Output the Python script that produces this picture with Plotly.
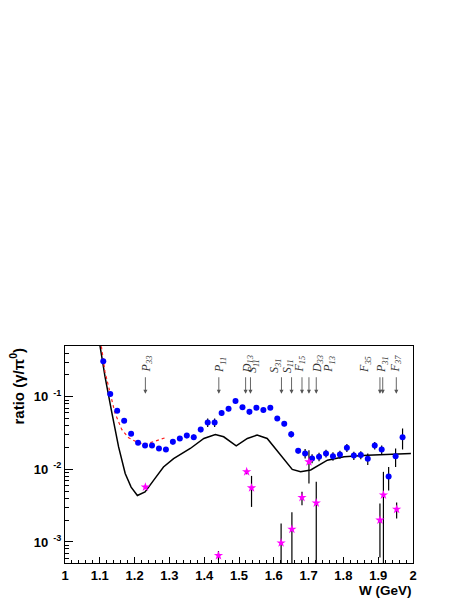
import plotly.graph_objects as go

# measured ratio (blue dots)
w_data = [1.11, 1.13, 1.15, 1.17, 1.19, 1.21, 1.23, 1.25, 1.27, 1.29,
          1.31, 1.33, 1.35, 1.37, 1.39, 1.41, 1.43, 1.45, 1.47, 1.49,
          1.51, 1.53, 1.55, 1.57, 1.59, 1.61, 1.63, 1.65, 1.67, 1.69,
          1.71, 1.73, 1.75, 1.77, 1.79, 1.81, 1.83, 1.85, 1.87, 1.89,
          1.91, 1.93, 1.95, 1.97]
ratio_data = [0.31, 0.109, 0.064, 0.0467, 0.031, 0.0232, 0.0213, 0.0213, 0.0194, 0.0188,
              0.024, 0.0267, 0.0293, 0.0278, 0.0355, 0.0443, 0.0443, 0.0596, 0.0683, 0.0873,
              0.072, 0.062, 0.0706, 0.0656, 0.0706, 0.0503, 0.0424, 0.0305, 0.018, 0.0166,
              0.0141, 0.0149, 0.0166, 0.0152, 0.016, 0.0198, 0.0155, 0.0158, 0.014, 0.0213,
              0.0188, 0.008, 0.0152, 0.0278]
err_up = [0.02, 0.006, 0.004, 0.003, 0.002, 0.0015, 0.0015, 0.0015, 0.0015, 0.0015,
          0.002, 0.002, 0.0025, 0.0025, 0.003, 0.006, 0.006, 0.005, 0.005, 0.006,
          0.005, 0.005, 0.005, 0.005, 0.005, 0.004, 0.003, 0.003, 0.0015, 0.0025,
          0.002, 0.002, 0.002, 0.002, 0.002, 0.0025, 0.002, 0.002, 0.0025, 0.0025,
          0.0025, 0.0028, 0.0042, 0.0088]
err_dn = [0.02, 0.006, 0.004, 0.003, 0.002, 0.0015, 0.0015, 0.0015, 0.0015, 0.0015,
          0.002, 0.002, 0.0025, 0.0025, 0.003, 0.006, 0.006, 0.005, 0.005, 0.006,
          0.005, 0.005, 0.005, 0.005, 0.005, 0.004, 0.003, 0.003, 0.0015, 0.0025,
          0.002, 0.002, 0.002, 0.002, 0.002, 0.0025, 0.002, 0.002, 0.0025, 0.0025,
          0.0025, 0.0029, 0.0044, 0.009]

# magenta stars with their error bounds
w_star = [1.231, 1.441, 1.522, 1.536, 1.621, 1.652, 1.681, 1.701, 1.722, 1.905, 1.915, 1.953]
ratio_star = [0.0057, 0.00065, 0.0093, 0.00556, 0.00097, 0.0015, 0.0041, 0.0127, 0.00345, 0.002, 0.00444, 0.00282]
star_hi = [0.006, 0.00075, 0.0100, 0.00813, 0.0018, 0.00257, 0.0049, 0.0184, 0.00673, 0.00339, 0.00925, 0.00349]
star_lo = [0.0054, 0.00056, 0.0086, 0.00304, 0.0001, 0.0001, 0.0032, 0.00638, 0.0001, 0.00061, 0.0001, 0.0021]

# model curve (solid black)
w_model = [1.098, 1.115, 1.135, 1.154, 1.173, 1.19, 1.208, 1.23, 1.255, 1.283,
           1.312, 1.36, 1.399, 1.432, 1.456, 1.492, 1.524, 1.552, 1.581, 1.62,
           1.653, 1.677, 1.706, 1.754, 1.802, 1.869, 1.926, 1.994]
ratio_model = [0.6, 0.189, 0.059, 0.0204, 0.00877, 0.0057, 0.00436, 0.0049, 0.0071, 0.0108,
               0.0141, 0.0194, 0.0267, 0.0303, 0.0281, 0.0211, 0.0267, 0.0297, 0.0267, 0.0157,
               0.01, 0.00925, 0.0098, 0.0134, 0.0149, 0.0157, 0.0162, 0.0166]

# fit near threshold (red dotted)
w_fit = [1.102, 1.115, 1.13, 1.144, 1.163, 1.183, 1.211, 1.23, 1.259, 1.29]
ratio_fit = [0.6, 0.22, 0.111, 0.059, 0.0355, 0.0272, 0.0232, 0.0223, 0.0245, 0.0275]

# resonance arrows, label positions and names
res_w = [1.231, 1.442, 1.519, 1.533, 1.622, 1.651, 1.681, 1.701, 1.722, 1.905, 1.913, 1.952]
label_w = [1.236, 1.446, 1.524, 1.541, 1.604, 1.639, 1.676, 1.725, 1.760, 1.864, 1.913, 1.950]
res_names = [("P", "33"), ("P", "11"), ("D", "13"), ("S", "11"), ("S", "31"), ("S", "11"),
             ("F", "15"), ("D", "33"), ("P", "13"), ("F", "35"), ("P", "31"), ("F", "37")]

x_ticks = [1, 1.1, 1.2, 1.3, 1.4, 1.5, 1.6, 1.7, 1.8, 1.9, 2]
x_ticktext = ["1", "1.1", "1.2", "1.3", "1.4", "1.5", "1.6", "1.7", "1.8", "1.9", "2"]
y_ticks = [1e-3, 1e-2, 1e-1]
y_ticktext = ["10<sup>\u00a0\u00a0-3</sup>", "10<sup>\u00a0\u00a0-2</sup>", "10<sup>\u00a0\u00a0-1</sup>"]

fig = go.Figure()

fig.add_trace(go.Scatter(x=w_model, y=ratio_model, mode="lines",
                         line=dict(color="black", width=1.5), hoverinfo="skip"))
fig.add_trace(go.Scatter(x=w_fit, y=ratio_fit, mode="lines",
                         line=dict(color="#ff2020", width=1.2, dash="dot"), hoverinfo="skip"))
fig.add_trace(go.Scatter(
    x=w_data, y=ratio_data, mode="markers",
    marker=dict(color="#0000ff", size=6, symbol="circle"),
    error_y=dict(type="data", symmetric=False, array=err_up, arrayminus=err_dn,
                 color="black", thickness=1.2, width=0)))
fig.add_trace(go.Scatter(
    x=w_star, y=ratio_star, mode="markers",
    marker=dict(color="#ff00ff", size=7, symbol="star"),
    error_y=dict(type="data", symmetric=False,
                 array=[h - v for h, v in zip(star_hi, ratio_star)],
                 arrayminus=[v - l for v, l in zip(ratio_star, star_lo)],
                 color="black", thickness=1.2, width=0)))

# arrows and labels for resonances
for xw, lw, (letter, sub) in zip(res_w, label_w, res_names):
    fig.add_annotation(x=xw, y=0.78, xref="x", yref="paper", text="",
                       showarrow=True, ax=0, ay=-18, arrowhead=2, arrowsize=0.9,
                       arrowwidth=0.9, arrowcolor="#555555")
    fig.add_annotation(x=lw, y=0.872, xref="x", yref="paper",
                       text="<i>" + letter + "</i><sub><i>" + sub + "</i></sub>",
                       showarrow=False, textangle=-90, xanchor="center", yanchor="bottom",
                       borderpad=0,
                       font=dict(family="Liberation Serif", size=12, color="#333333"))

# axis titles
fig.add_annotation(x=1, y=-0.166, xref="paper", yref="paper", text="W (GeV)",
                   showarrow=False, xanchor="right", yanchor="bottom", borderpad=0,
                   font=dict(family="Liberation Sans", size=13.5, color="black", weight="bold"))
fig.add_annotation(x=0, y=1, xref="paper", yref="paper", xshift=-48,
                   text="ratio (\u03b3/\u03c0<sup>0</sup>)",
                   showarrow=False, textangle=-90, xanchor="center", yanchor="top",
                   font=dict(family="Liberation Sans", size=15, color="black", weight="bold"))

y_minor = []
for d in [1e-4, 1e-3, 1e-2, 1e-1]:
    for k in range(2, 10):
        y_minor.append(k * d)

fig.update_xaxes(range=[1, 2], tickvals=x_ticks, ticktext=x_ticktext,
                 ticks="inside", ticklen=6, tickcolor="black",
                 showline=True, linecolor="black", linewidth=1, mirror=True,
                 showgrid=False, zeroline=False,
                 minor=dict(ticks="inside", ticklen=3, dtick=0.02, tickcolor="black", showgrid=False),
                 tickfont=dict(family="Liberation Sans", size=13, color="black", weight="bold"))
fig.update_yaxes(type="log", range=[-3.29, -0.30], tickvals=y_ticks, ticktext=y_ticktext,
                 ticks="inside", ticklen=8, tickcolor="black",
                 showline=True, linecolor="black", linewidth=1, mirror=True,
                 showgrid=False, zeroline=False,
                 minor=dict(ticks="inside", ticklen=4, tickvals=y_minor, tickcolor="black", showgrid=False),
                 tickfont=dict(family="Liberation Sans", size=13, color="black", weight="bold"))

# page body adds an 8px offset, so the figure is made a bit smaller
fig.update_layout(width=453, height=591, showlegend=False,
                  margin=dict(l=57, r=48, t=338, b=36),
                  paper_bgcolor="white", plot_bgcolor="white")

fig.write_html("out.html")
